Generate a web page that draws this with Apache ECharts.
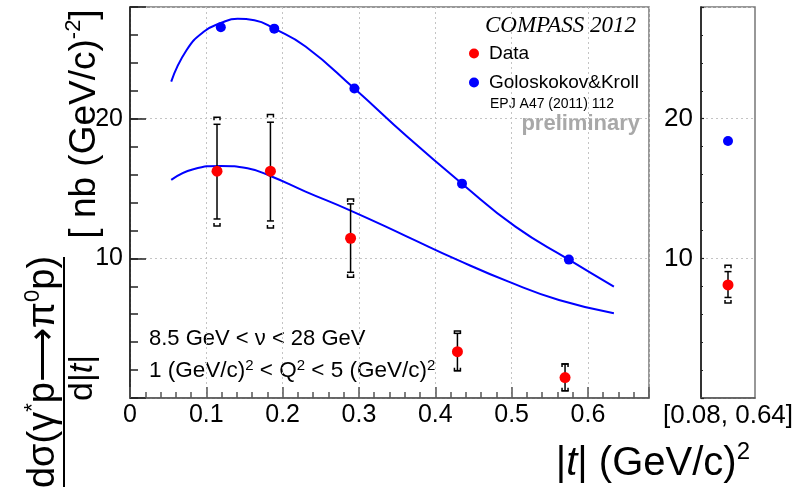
<!DOCTYPE html>
<html><head><meta charset="utf-8">
<script src="https://cdn.jsdelivr.net/npm/echarts@6/dist/echarts.min.js"></script>
<style>html,body{margin:0;padding:0;background:#fff}#c{width:797px;height:487px}</style>
</head><body><div id="c"></div>
<script>
// ---- data ----
const xTickLabels = ['0', '0.1', '0.2', '0.3', '0.4', '0.5', '0.6'];
const yTickLabels = ['10', '20'];
const dataT     = [0.114, 0.184, 0.289, 0.429, 0.570];
const dataXsec  = [16.24, 16.24, 11.44, 3.32, 1.46];
const statLow   = [12.82, 12.68, 9.00, 1.96, 0.52];
const statHigh  = [19.60, 19.75, 13.90, 4.63, 2.44];
const sysLow    = [12.32, 12.18, 8.64, 1.96, 0.52];
const sysHigh   = [20.10, 20.30, 14.25, 4.80, 2.44];
const gkT       = [0.119, 0.189, 0.294, 0.435, 0.575];
const gkXsec    = [26.55, 26.45, 22.16, 15.35, 9.91];
const upperT    = [0.054, 0.074, 0.097, 0.119, 0.141, 0.163, 0.189, 0.230, 0.294, 0.363, 0.435, 0.505, 0.575, 0.634];
const upperV    = [22.66, 24.90, 26.24, 26.85, 27.15, 27.05, 26.45, 25.17, 22.16, 18.72, 15.35, 12.27, 9.91, 7.97];
const lowerT    = [0.054, 0.083, 0.119, 0.154, 0.184, 0.230, 0.289, 0.363, 0.429, 0.496, 0.562, 0.634];
const lowerV    = [15.62, 16.38, 16.62, 16.45, 15.90, 14.78, 13.42, 11.56, 9.89, 8.33, 7.02, 6.07];
const intCategory = ['[0.08, 0.64]'];
const intXsec     = [8.1];
const intStatLow  = [7.2];
const intStatHigh = [9.05];
const intSysLow   = [6.8];
const intSysHigh  = [9.5];
const intGk       = [18.4];

// ---- build ----
const FF = 'Liberation Sans';
const zip = (a, b) => a.map((v, i) => [v, b[i]]);
const errData = dataT.map((t, i) => [t, statLow[i], statHigh[i], sysLow[i], sysHigh[i]]);
const intErrData = intCategory.map((c, i) => [i, intStatLow[i], intStatHigh[i], intSysLow[i], intSysHigh[i]]);

function errRender(params, api) {
  const x = api.value(0);
  const sHi = api.coord([x, api.value(2)]);
  const sLo = api.coord([x, api.value(1)]);
  const yHi = api.coord([x, api.value(4)]);
  const yLo = api.coord([x, api.value(3)]);
  const cx = sHi[0], w = 3.5, b = 3, leg = 3;
  const st = { stroke: '#000', lineWidth: 1.5, fill: null };
  return { type: 'group', children: [
    { type: 'line', shape: { x1: cx, y1: sHi[1], x2: cx, y2: sLo[1] }, style: st },
    { type: 'line', shape: { x1: cx - w, y1: sHi[1], x2: cx + w, y2: sHi[1] }, style: st },
    { type: 'line', shape: { x1: cx - w, y1: sLo[1], x2: cx + w, y2: sLo[1] }, style: st },
    { type: 'polyline', shape: { points: [[cx - b, yHi[1] + leg], [cx - b, yHi[1]], [cx + b, yHi[1]], [cx + b, yHi[1] + leg]] }, style: st },
    { type: 'polyline', shape: { points: [[cx - b, yLo[1] - leg], [cx - b, yLo[1]], [cx + b, yLo[1]], [cx + b, yLo[1] - leg]] }, style: st }
  ]};
}

const xFmt = v => { const i = Math.round(v / 0.1); return (Math.abs(v - i * 0.1) < 1e-6 && i < xTickLabels.length) ? xTickLabels[i] : ''; };
const yFmt = v => { const i = Math.round(v / 10) - 1; return (Math.abs(v - (i + 1) * 10) < 1e-6 && i >= 0 && i < yTickLabels.length) ? yTickLabels[i] : ''; };
const dotted = { show: true, lineStyle: { type: [2, 3], color: '#c4c4c4', width: 1 } };

const option = {
  animation: false,
  backgroundColor: '#fff',
  grid: [
    { left: 130, top: 7, width: 519, height: 391, show: true, borderColor: '#777', borderWidth: 1.5, backgroundColor: 'transparent' },
    { left: 701, top: 7, width: 54, height: 391, show: true, borderColor: '#777', borderWidth: 1.5, backgroundColor: 'transparent' },
    { left: 130, top: 7, width: 519, height: 391, show: false },
    { left: 701, top: 7, width: 54, height: 391, show: false }
  ],
  xAxis: [
    { gridIndex: 0, type: 'value', min: 0, max: 0.68, interval: 0.1,
      axisLine: { show: true, lineStyle: { color: '#555', width: 1.5 } },
      axisTick: { show: true, inside: true, length: 11, lineStyle: { color: '#555', width: 1.5 } },
      axisLabel: { fontSize: 25, fontFamily: FF, color: '#000', margin: 5, formatter: xFmt },
      splitLine: dotted },
    { gridIndex: 1, type: 'category', data: intCategory,
      axisLine: { show: true, lineStyle: { color: '#555', width: 1.5 } },
      axisTick: { show: false },
      axisLabel: { interval: 0, fontSize: 26, fontFamily: FF, color: '#000', margin: 5 },
      splitLine: { show: false } },
    { gridIndex: 2, type: 'value', min: 0, max: 0.68, interval: 0.02,
      axisLine: { show: false }, axisLabel: { show: false }, splitLine: { show: false },
      axisTick: { show: true, inside: true, length: 6, lineStyle: { color: '#555', width: 1.5 } } },
    { gridIndex: 3, type: 'category', data: intCategory, show: false }
  ],
  yAxis: [
    { gridIndex: 0, type: 'value', min: 0, max: 28, interval: 10,
      axisLine: { show: true, lineStyle: { color: '#111', width: 1.5 } },
      axisTick: { show: true, inside: true, length: 16, lineStyle: { color: '#222', width: 1.5 } },
      axisLabel: { fontSize: 25, fontFamily: FF, color: '#000', margin: 7, formatter: yFmt },
      splitLine: dotted },
    { gridIndex: 1, type: 'value', min: 0, max: 28, interval: 10,
      axisLine: { show: true, lineStyle: { color: '#111', width: 1.5 } },
      axisTick: { show: true, inside: true, length: 3, lineStyle: { color: '#222', width: 1.2 } },
      axisLabel: { fontSize: 26, fontFamily: FF, color: '#000', margin: 8, formatter: yFmt },
      splitLine: dotted },
    { gridIndex: 2, type: 'value', min: 0, max: 28, interval: 2,
      axisLine: { show: false }, axisLabel: { show: false }, splitLine: { show: false },
      axisTick: { show: true, inside: true, length: 8, lineStyle: { color: '#222', width: 1.5 } } },
    { gridIndex: 3, type: 'value', min: 0, max: 28, interval: 2,
      axisLine: { show: false }, axisLabel: { show: false }, splitLine: { show: false },
      axisTick: { show: true, inside: true, length: 2, lineStyle: { color: '#222', width: 1.2 } } }
  ],
  legend: {
    orient: 'vertical', left: 469, top: 39, padding: 0, itemGap: 0,
    itemWidth: 10, itemHeight: 10, icon: 'circle', selectedMode: false,
    data: ['Data', 'Goloskokov&Kroll'],
    textStyle: { fontSize: 19, fontFamily: FF, color: '#000', lineHeight: 29, padding: [0, 0, 0, 5] }
  },
  series: [
    { name: 'GK upper', type: 'line', xAxisIndex: 0, yAxisIndex: 0, data: zip(upperT, upperV),
      smooth: true, showSymbol: false, symbol: 'none', lineStyle: { color: '#0000ff', width: 2 }, z: 2 },
    { name: 'GK lower', type: 'line', xAxisIndex: 0, yAxisIndex: 0, data: zip(lowerT, lowerV),
      smooth: true, showSymbol: false, symbol: 'none', lineStyle: { color: '#0000ff', width: 2 }, z: 2 },
    { name: 'errors', type: 'custom', xAxisIndex: 0, yAxisIndex: 0, data: errData, renderItem: errRender,
      encode: { x: 0, y: [1, 2, 3, 4] }, z: 3 },
    { name: 'Data', type: 'scatter', xAxisIndex: 0, yAxisIndex: 0, data: zip(dataT, dataXsec),
      symbolSize: 11, itemStyle: { color: '#ff0000', opacity: 1 }, z: 5 },
    { name: 'Goloskokov&Kroll', type: 'scatter', xAxisIndex: 0, yAxisIndex: 0, data: zip(gkT, gkXsec),
      symbolSize: 10, itemStyle: { color: '#0000ff', opacity: 1 }, z: 5 },
    { name: 'int errors', type: 'custom', xAxisIndex: 1, yAxisIndex: 1, data: intErrData, renderItem: errRender,
      encode: { x: 0, y: [1, 2, 3, 4] }, z: 3 },
    { name: 'Data', type: 'scatter', xAxisIndex: 1, yAxisIndex: 1, data: zip(intCategory, intXsec),
      symbolSize: 11, itemStyle: { color: '#ff0000', opacity: 1 }, z: 5 },
    { name: 'Goloskokov&Kroll', type: 'scatter', xAxisIndex: 1, yAxisIndex: 1, data: zip(intCategory, intGk),
      symbolSize: 10, itemStyle: { color: '#0000ff', opacity: 1 }, z: 5 }
  ],
  graphic: [
    { type: 'text', x: 636, y: 26, style: { text: 'COMPASS 2012', fontFamily: 'Liberation Serif', fontStyle: 'italic', fontSize: 23, fill: '#000', align: 'right', verticalAlign: 'middle' } },
    { type: 'text', x: 490, y: 104, style: { text: 'EPJ A47 (2011) 112', fontFamily: FF, fontSize: 14, fill: '#000', align: 'left', verticalAlign: 'middle' } },
    { type: 'text', x: 640, y: 124, style: { text: 'preliminary', fontFamily: FF, fontSize: 22, fontWeight: 'bold', fill: '#a8a8a8', align: 'right', verticalAlign: 'middle' } },
    { type: 'text', x: 149, y: 339, style: { text: '8.5 GeV < ν < 28 GeV', fontFamily: FF, fontSize: 22, fill: '#000', align: 'left', verticalAlign: 'middle' } },
    { type: 'text', x: 149, y: 371, style: { text: '{m|1 (GeV/c)}{s|2}{m| < Q}{s|2}{m| < 5 (GeV/c)}{s|2}', align: 'left', verticalAlign: 'middle',
        rich: { m: { fontFamily: FF, fontSize: 22.5, lineHeight: 26, color: '#000' }, s: { fontFamily: FF, fontSize: 15, lineHeight: 15, verticalAlign: 'top', color: '#000' } } } },
    { type: 'text', x: 750, y: 464, style: { text: '{m||}{i|t}{m|| (GeV/c)}{s|2}', align: 'right', verticalAlign: 'middle',
        rich: { m: { fontFamily: FF, fontSize: 40, lineHeight: 47, color: '#000' }, i: { fontFamily: FF, fontStyle: 'italic', fontSize: 40, lineHeight: 47, color: '#000' }, s: { fontFamily: FF, fontSize: 24, lineHeight: 24, verticalAlign: 'top', color: '#000' } } } },
    { type: 'text', x: 44, y: 372, rotation: Math.PI / 2, style: { text: '{m|dσ(γ}{s|*}{m|p⟶π}{s|0}{m|p)}', align: 'center', verticalAlign: 'middle',
        rich: { m: { fontFamily: FF, fontSize: 38, lineHeight: 44, color: '#000' }, s: { fontFamily: FF, fontSize: 22, lineHeight: 22, verticalAlign: 'top', color: '#000' } } } },
    { type: 'line', shape: { x1: 64, y1: 487, x2: 64, y2: 257 }, style: { stroke: '#000', lineWidth: 2 } },
    { type: 'text', x: 83, y: 378, rotation: Math.PI / 2, style: { text: '{m|d|}{i|t}{m||}', align: 'center', verticalAlign: 'middle',
        rich: { m: { fontFamily: FF, fontSize: 34, lineHeight: 40, color: '#000' }, i: { fontFamily: FF, fontStyle: 'italic', fontSize: 34, lineHeight: 40, color: '#000' } } } },
    { type: 'text', x: 85, y: 124, rotation: Math.PI / 2, style: { text: '{m|[ nb (GeV/c)}{s|-2}{m|]}', align: 'center', verticalAlign: 'middle',
        rich: { m: { fontFamily: FF, fontSize: 37, lineHeight: 44, color: '#000' }, s: { fontFamily: FF, fontSize: 22, lineHeight: 22, verticalAlign: 'top', color: '#000' } } } }
  ]
};
const chart = echarts.init(document.getElementById('c'), null, { renderer: 'canvas' });
chart.setOption(option);
</script>
</body></html>
